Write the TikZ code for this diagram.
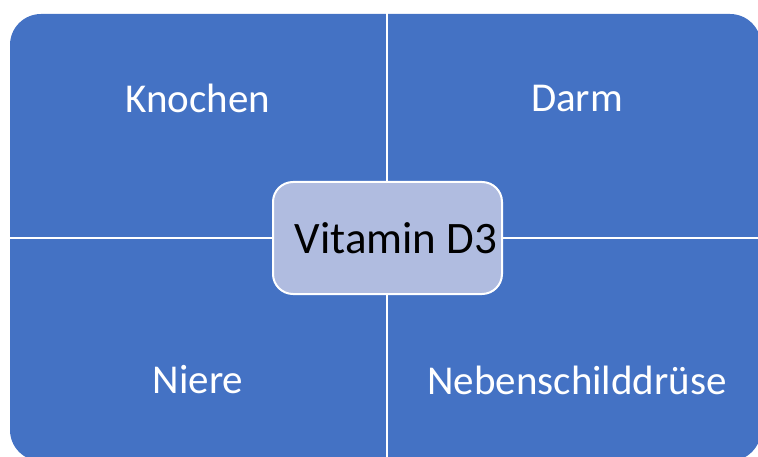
\documentclass[tikz,border=0pt]{standalone}
\usepackage{fontspec}
\setmainfont{Carlito}
\definecolor{quadblue}{HTML}{4472C4}
\definecolor{centerblue}{HTML}{B0BCE0}
\begin{document}
\begin{tikzpicture}[x=1pt,y=-1pt,
  quadlabel/.style={text=white,font=\fontsize{41}{49}\selectfont,anchor=center,inner sep=0pt},
  centerbox/.style={fill=centerblue,draw=white,line width=2pt,rounded corners=20pt},
  divider/.style={draw=white,line width=2pt}]
\useasboundingbox (0,0) rectangle (758,457);
\clip (0,0) rectangle (758,457);
\fill[quadblue,rounded corners=31pt] (10,14) rectangle (761,461);
\coordinate (vtop) at (387,0);
\coordinate (vbot) at (387,457);
\coordinate (hl) at (0,238);
\coordinate (hr) at (758,238);
\draw[divider] (vtop) -- (vbot);
\draw[divider] (hl) -- (hr);
\node[quadlabel] (knochen) at (198,98) {Knochen};
\node[quadlabel] (darm) at (577,98) {Darm};
\node[quadlabel] (niere) at (198,380) {Niere};
\node[quadlabel] (neben) at (577,380) {Nebenschilddrüse};
\draw[centerbox] (273,182) rectangle (502,294);
\node[anchor=center,inner sep=0pt,font=\fontsize{45}{54}\selectfont] (vitd) at (396,238) {Vitamin D3};
\end{tikzpicture}
\end{document}
